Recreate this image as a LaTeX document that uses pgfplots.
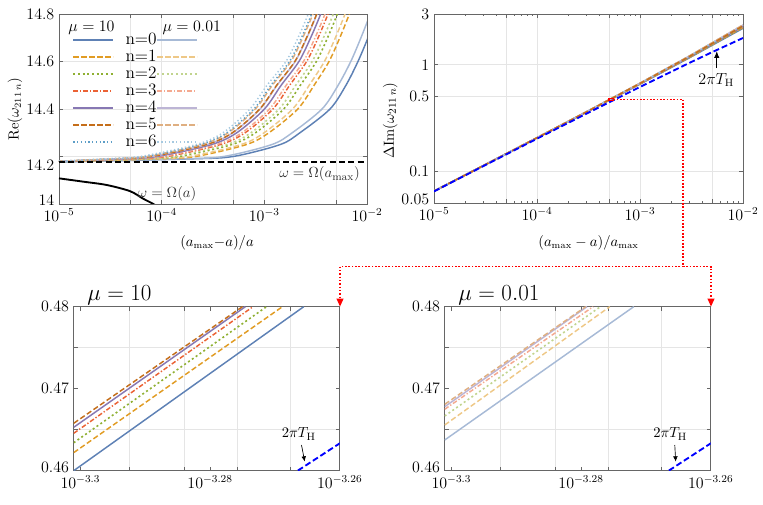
\documentclass[border=0pt]{standalone}
\usepackage{pgfplots}
\pgfplotsset{compat=1.18}
\usetikzlibrary{arrows.meta}

\definecolor{c0}{rgb}{0.368417,0.506779,0.709798}
\definecolor{c1}{rgb}{0.880722,0.611041,0.142051}
\definecolor{c2}{rgb}{0.560181,0.691569,0.194885}
\definecolor{c3}{rgb}{0.922526,0.385626,0.209179}
\definecolor{c4}{rgb}{0.528488,0.470624,0.701351}
\definecolor{c5}{rgb}{0.772079,0.431554,0.102387}
\definecolor{c6}{rgb}{0.363898,0.618501,0.782349}
\colorlet{l0}{c0!55!white}
\colorlet{l1}{c1!55!white}
\colorlet{l2}{c2!55!white}
\colorlet{l3}{c3!55!white}
\colorlet{l4}{c4!55!white}
\colorlet{l5}{c5!55!white}
\colorlet{l6}{c6!55!white}

\tikzset{
  s0/.style={line width=1.1pt},
  s1/.style={line width=1.1pt, dash pattern=on 4pt off 2pt},
  s2/.style={line width=1.2pt, dash pattern=on 1.5pt off 2pt},
  s3/.style={line width=1.1pt, dash pattern=on 3.5pt off 1.5pt on 1pt off 1.5pt},
  s4/.style={line width=1.1pt},
  s5/.style={line width=1.1pt, dash pattern=on 4pt off 2pt},
  s6/.style={line width=1.1pt, dash pattern=on 1pt off 1.8pt},
  th/.style={blue, line width=1.4pt, dash pattern=on 4.5pt off 2.2pt},
  rdot/.style={red, line width=1.2pt, dash pattern=on 1.2pt off 1.3pt},
}
\newcommand\legtxt[1]{\hspace{8.5pt}#1\hspace{9pt}}

\pgfplotsset{
  mma/.style={
    scale only axis,
    clip mode=individual,
    axis line style={black!60, line width=0.7pt},
    tick style={black!60, line width=0.5pt},
    major tick length=3pt,
    minor tick length=1.5pt,
    tick align=inside,
    grid style={gray!20, line width=0.5pt},
    ticklabel style={font=\fontsize{12}{12}\selectfont},
    label style={font=\fontsize{10.5}{11}\selectfont},
  }
}

\begin{document}
\begin{tikzpicture}

%% ---------------- top left ----------------
\begin{axis}[mma, name=tl,
  at={(44.25pt,-10.5pt)}, anchor=north west,
  width=231pt, height=142.5pt,
  xmin=-5, xmax=-2, ymin=14, ymax=14.8,
  xtick={-5,-4,-3,-2},
  xticklabels={$10^{-5}$,$10^{-4}$,$10^{-3}$,$10^{-2}$},
  ytick={14,14.4,14.6,14.8},
  yticklabels={\raisebox{6pt}{14},14.4,14.6,14.8},
  extra y ticks={14.2}, extra y tick labels={14.2},
  extra y tick style={grid=major, yticklabel style={yshift=-6.4pt}},
  extra x ticks={-4.30103,-3.30103,-2.30103}, extra x tick labels={},
  extra x tick style={grid=major},
  xmajorgrids, ymajorgrids,
  xlabel={$(a_{\max}{-}a)/a$},
  xlabel style={at={(axis description cs:0.513,-0.205)}, anchor=center},
  ylabel={$\mathrm{Re}(\omega_{211\,n})$},
  ylabel style={at={(axis description cs:-0.143,0.5)}, anchor=center},
  legend columns=2,
  legend style={draw=none, fill=none, at={(axis description cs:0.0432,0.9)},
    anchor=north west, font=\fontsize{13}{13}\selectfont,
    inner sep=0pt, row sep=2.6pt, column sep=0pt,
    nodes={inner sep=0pt}},
  legend image code/.code={\draw[#1] (0pt,0pt) -- (30pt,0pt);},
]
\addplot[c0, s0, smooth] coordinates {(-5,14.177) (-3.724,14.19) (-3.305,14.20) (-2.847,14.25) (-2.653,14.30) (-2.360,14.40) (-2.205,14.50) (-2.088,14.60) (-1.990,14.70) (-1.902,14.80) (-1.825,14.90)};
\addlegendentry{\legtxt{n=0}}
\addplot[l0, s0, smooth] coordinates {(-5,14.178) (-3.807,14.19) (-3.396,14.20) (-2.929,14.25) (-2.728,14.30) (-2.438,14.40) (-2.281,14.50) (-2.158,14.60) (-2.059,14.70) (-1.969,14.80) (-1.891,14.90)};
\addlegendentry{}
\addplot[c1, s1, smooth] coordinates {(-5,14.178) (-4.058,14.19) (-3.670,14.20) (-3.177,14.25) (-2.955,14.30) (-2.674,14.40) (-2.515,14.50) (-2.370,14.60) (-2.265,14.70) (-2.172,14.80) (-2.092,14.90)};
\addlegendentry{\legtxt{n=1}}
\addplot[l1, s1, smooth] coordinates {(-5,14.178) (-4.110,14.19) (-3.727,14.20) (-3.229,14.25) (-3.002,14.30) (-2.724,14.40) (-2.563,14.50) (-2.415,14.60) (-2.308,14.70) (-2.214,14.80) (-2.133,14.90)};
\addlegendentry{}
\addplot[c2, s2, smooth] coordinates {(-5,14.178) (-4.203,14.19) (-3.829,14.20) (-3.320,14.25) (-3.086,14.30) (-2.811,14.40) (-2.649,14.50) (-2.493,14.60) (-2.384,14.70) (-2.289,14.80) (-2.208,14.90)};
\addlegendentry{\legtxt{n=2}}
\addplot[l2, s2, smooth] coordinates {(-5,14.179) (-4.251,14.19) (-3.881,14.20) (-3.368,14.25) (-3.130,14.30) (-2.856,14.40) (-2.694,14.50) (-2.534,14.60) (-2.424,14.70) (-2.328,14.80) (-2.246,14.90)};
\addlegendentry{}
\addplot[c3, s3, smooth] coordinates {(-5,14.179) (-4.314,14.19) (-3.951,14.20) (-3.431,14.25) (-3.187,14.30) (-2.916,14.40) (-2.753,14.50) (-2.588,14.60) (-2.476,14.70) (-2.380,14.80) (-2.297,14.90)};
\addlegendentry{\legtxt{n=3}}
\addplot[l3, s3, smooth] coordinates {(-5,14.179) (-4.351,14.19) (-3.991,14.20) (-3.467,14.25) (-3.220,14.30) (-2.950,14.40) (-2.787,14.50) (-2.619,14.60) (-2.506,14.70) (-2.409,14.80) (-2.326,14.90)};
\addlegendentry{}
\addplot[c4, s4, smooth] coordinates {(-5,14.179) (-4.403,14.19) (-4.048,14.20) (-3.518,14.25) (-3.268,14.30) (-2.999,14.40) (-2.836,14.50) (-2.663,14.60) (-2.549,14.70) (-2.451,14.80) (-2.368,14.90)};
\addlegendentry{\legtxt{n=4}}
\addplot[l4, s4, smooth] coordinates {(-5,14.179) (-4.447,14.19) (-4.096,14.20) (-3.562,14.25) (-3.307,14.30) (-3.041,14.40) (-2.876,14.50) (-2.700,14.60) (-2.586,14.70) (-2.487,14.80) (-2.403,14.90)};
\addlegendentry{}
\addplot[c5, s5, smooth] coordinates {(-5,14.179) (-4.451,14.19) (-4.101,14.20) (-3.566,14.25) (-3.311,14.30) (-3.045,14.40) (-2.880,14.50) (-2.703,14.60) (-2.589,14.70) (-2.490,14.80) (-2.406,14.90)};
\addlegendentry{\legtxt{n=5}}
\addplot[l5, s5, smooth] coordinates {(-5,14.180) (-4.496,14.19) (-4.149,14.20) (-3.610,14.25) (-3.352,14.30) (-3.087,14.40) (-2.922,14.50) (-2.741,14.60) (-2.626,14.70) (-2.526,14.80) (-2.442,14.90)};
\addlegendentry{}
\addplot[c6, s6, smooth] coordinates {(-5,14.180) (-4.511,14.19) (-4.167,14.20) (-3.626,14.25) (-3.366,14.30) (-3.101,14.40) (-2.936,14.50) (-2.755,14.60) (-2.639,14.70) (-2.539,14.80) (-2.455,14.90)};
\addlegendentry{\legtxt{n=6}}
\addplot[l6, s6, smooth] coordinates {(-5,14.180) (-4.552,14.19) (-4.211,14.20) (-3.666,14.25) (-3.403,14.30) (-3.140,14.40) (-2.974,14.50) (-2.789,14.60) (-2.672,14.70) (-2.572,14.80) (-2.487,14.90)};
\addlegendentry{}
% Omega(a_max) and Omega(a)
\addplot[forget plot, black, line width=1.5pt, dash pattern=on 4.5pt off 2.5pt] coordinates {(-5,14.176) (-2,14.176)};
\addplot[forget plot, black, line width=1.4pt, smooth] coordinates {(-5,14.108) (-4.763,14.094) (-4.535,14.080) (-4.308,14.054) (-4.179,14.022) (-4.081,14.000) (-4.0,13.975)};
\node[anchor=east, font=\fontsize{11}{11}\selectfont, black!80] at (axis cs:-2.025,14.125) {$\omega=\Omega(a_{\max})$};
\node[font=\fontsize{11}{11}\selectfont, black!80] at (axis cs:-3.948,14.043) {$\omega=\Omega(a)$};
\node[font=\fontsize{11.5}{12}\selectfont] at (axis description cs:0.1055,0.926) {$\mu=10$};
\node[font=\fontsize{11.5}{12}\selectfont] at (axis description cs:0.431,0.926) {$\mu=0.01$};
\end{axis}

%% ---------------- top right ----------------
\begin{axis}[mma, name=tr,
  at={(325.5pt,-10.5pt)}, anchor=north west,
  width=231.75pt, height=141.75pt,
  xmode=log, ymode=log,
  xmin=1e-5, xmax=1e-2, ymin=0.05, ymax=3,
  xtick={1e-5,1e-4,1e-3,1e-2},
  xticklabels={$10^{-5}$,$10^{-4}$,$10^{-3}$,$10^{-2}$},
  ytick={0.05,0.1,0.5,1,3},
  yticklabels={\raisebox{6pt}{0.05},0.1,0.5,1,3},
  extra x ticks={5e-5,5e-4,5e-3}, extra x tick labels={},
  extra x tick style={grid=major},
  xmajorgrids, ymajorgrids,
  xlabel={$(a_{\max}-a)/a_{\max}$},
  xlabel style={at={(axis description cs:0.50,-0.212)}, anchor=center},
  ylabel={$\Delta\mathrm{Im}(\omega_{211\,n})$},
  ylabel style={at={(axis description cs:-0.142,0.436)}, anchor=center, font=\fontsize{11}{11}\selectfont},
]
\addplot[c0, s0] coordinates {(1e-5,0.06456) (3e-5,0.11187) (1e-4,0.20456) (3e-4,0.35561) (1e-3,0.65552) (3e-3,1.15718) (1e-2,2.20082)};
\addplot[l0, s0] coordinates {(1e-5,0.06461) (3e-5,0.11202) (1e-4,0.20514) (3e-4,0.35749) (1e-3,0.66234) (3e-3,1.17893) (1e-2,2.27628)};
\addplot[c1, s1] coordinates {(1e-5,0.06459) (3e-5,0.11195) (1e-4,0.20486) (3e-4,0.35659) (1e-3,0.65906) (3e-3,1.16848) (1e-2,2.24002)};
\addplot[l1, s1] coordinates {(1e-5,0.06464) (3e-5,0.11211) (1e-4,0.20544) (3e-4,0.35847) (1e-3,0.66588) (3e-3,1.19022) (1e-2,2.31548)};
\addplot[c2, s2] coordinates {(1e-5,0.06461) (3e-5,0.11201) (1e-4,0.20508) (3e-4,0.35732) (1e-3,0.66172) (3e-3,1.17695) (1e-2,2.26942)};
\addplot[l2, s2] coordinates {(1e-5,0.06465) (3e-5,0.11215) (1e-4,0.20562) (3e-4,0.35906) (1e-3,0.66800) (3e-3,1.19700) (1e-2,2.33900)};
\addplot[c3, s3] coordinates {(1e-5,0.06462) (3e-5,0.11206) (1e-4,0.20527) (3e-4,0.35793) (1e-3,0.66393) (3e-3,1.18401) (1e-2,2.29392)};
\addplot[l3, s3] coordinates {(1e-5,0.06466) (3e-5,0.11219) (1e-4,0.20575) (3e-4,0.35950) (1e-3,0.66959) (3e-3,1.20209) (1e-2,2.35664)};
\addplot[c4, s4] coordinates {(1e-5,0.06463) (3e-5,0.11210) (1e-4,0.20541) (3e-4,0.35837) (1e-3,0.66552) (3e-3,1.18909) (1e-2,2.31156)};
\addplot[l4, s4] coordinates {(1e-5,0.06467) (3e-5,0.11221) (1e-4,0.20580) (3e-4,0.35967) (1e-3,0.67021) (3e-3,1.20406) (1e-2,2.36350)};
\addplot[c6, s6] coordinates {(1e-5,0.06464) (3e-5,0.11213) (1e-4,0.20552) (3e-4,0.35874) (1e-3,0.66685) (3e-3,1.19333) (1e-2,2.32626)};
\addplot[l6, s6] coordinates {(1e-5,0.06467) (3e-5,0.11223) (1e-4,0.20588) (3e-4,0.35991) (1e-3,0.67110) (3e-3,1.20689) (1e-2,2.37330)};
\addplot[l5, s5] coordinates {(1e-5,0.06467) (3e-5,0.11222) (1e-4,0.20585) (3e-4,0.35982) (1e-3,0.67075) (3e-3,1.20576) (1e-2,2.36938)};
\addplot[c5, s5] coordinates {(1e-5,0.06464) (3e-5,0.11212) (1e-4,0.20548) (3e-4,0.35862) (1e-3,0.66641) (3e-3,1.19192) (1e-2,2.32136)};
\addplot[th] coordinates {(1e-5,0.06430) (3e-5,0.11100) (1e-4,0.20138) (3e-4,0.34525) (1e-3,0.61800) (3e-3,1.03744) (5e-3,1.31130) (1e-2,1.78530)};
\draw[red, line width=0.8pt] (axis cs:5e-4,0.46) rectangle (axis cs:5.5e-4,0.48);
\draw[rdot] (axis cs:5.5e-4,0.47) -- (axis cs:2.616e-3,0.47);
\coordinate (rc) at (axis cs:2.616e-3,0.47);
\draw[black, line width=0.6pt, -{Latex[length=5pt,width=4pt]}] (axis cs:5.56e-3,0.931) -- (axis cs:5.56e-3,1.34);
\node[font=\fontsize{11.5}{12}\selectfont] at (axis cs:5.5e-3,0.718) {$2\pi T_{\mathrm{H}}$};
\end{axis}

%% ---------------- bottom left ----------------
\begin{axis}[mma, name=bl,
  at={(55.5pt,-230pt)}, anchor=north west,
  width=199.5pt, height=123pt,
  xmode=log, xmin=5e-4, xmax=5.49541e-4, ymin=0.46, ymax=0.48,
  xtick={5.01187e-4,5.24807e-4,5.49541e-4},
  xticklabels={$10^{-3.3}$,$10^{-3.28}$,$10^{-3.26}$},
  minor xtick={}, 
  ytick={0.46,0.47,0.48}, yticklabels={\raisebox{6pt}{0.46},0.47,0.48},
  extra x ticks={5.1e-4,5.2e-4,5.3e-4,5.4e-4}, extra x tick labels={},
  extra x tick style={grid=major},
  extra y ticks={0.465,0.475}, extra y tick labels={},
  extra y tick style={grid=major},
]
\addplot[c0, s0] coordinates {(5e-4,0.46000) (5.4256e-4,0.48)};
\addplot[c1, s1] coordinates {(5e-4,0.46220) (5.3847e-4,0.48)};
\addplot[c2, s2] coordinates {(5e-4,0.46341) (5.3542e-4,0.48)};
\addplot[c3, s3] coordinates {(5e-4,0.46456) (5.3288e-4,0.48)};
\addplot[c4, s4] coordinates {(5e-4,0.46529) (5.3144e-4,0.48)};
\addplot[c5, s5] coordinates {(5e-4,0.46578) (5.3088e-4,0.48)};
\addplot[th] coordinates {(5.4e-4,0.45942) (5.5e-4,0.46352)};
\draw[black, line width=0.5pt, -{Latex[length=4pt,width=3.5pt]}] (axis cs:5.4211e-4,0.46313) -- (axis cs:5.4275e-4,0.46110);
\node[font=\fontsize{11}{11}\selectfont] at (axis cs:5.4160e-4,0.46448) {$2\pi T_{\mathrm{H}}$};
\node[anchor=base west, font=\fontsize{16}{16}\selectfont] at (axis description cs:0.034,1.04) {$\mu=10$};
\end{axis}

%% ---------------- bottom right ----------------
\begin{axis}[mma, name=br,
  at={(333.75pt,-230pt)}, anchor=north west,
  width=199.5pt, height=123pt,
  xmode=log, xmin=5e-4, xmax=5.49541e-4, ymin=0.46, ymax=0.48,
  xtick={5.01187e-4,5.24807e-4,5.49541e-4},
  xticklabels={$10^{-3.3}$,$10^{-3.28}$,$10^{-3.26}$},
  minor xtick={},
  ytick={0.46,0.47,0.48}, yticklabels={\raisebox{6pt}{0.46},0.47,0.48},
  extra x ticks={5.1e-4,5.2e-4,5.3e-4,5.4e-4}, extra x tick labels={},
  extra x tick style={grid=major},
  extra y ticks={0.465,0.475}, extra y tick labels={},
  extra y tick style={grid=major},
]
\addplot[l0, s0] coordinates {(5e-4,0.46374) (5.3472e-4,0.48)};
\addplot[l1, s1] coordinates {(5e-4,0.46557) (5.3017e-4,0.48)};
\addplot[l2, s2] coordinates {(5e-4,0.46667) (5.2843e-4,0.48)};
\addplot[l3, s3] coordinates {(5e-4,0.46749) (5.2705e-4,0.48)};
\addplot[l4, s4] coordinates {(5e-4,0.46780) (5.2592e-4,0.48)};
\addplot[l5, s5] coordinates {(5e-4,0.46809) (5.2568e-4,0.48)};
\addplot[th] coordinates {(5.4e-4,0.45942) (5.5e-4,0.46352)};
\draw[black, line width=0.5pt, -{Latex[length=4pt,width=3.5pt]}] (axis cs:5.4256e-4,0.46313) -- (axis cs:5.4275e-4,0.46110);
\node[font=\fontsize{11}{11}\selectfont] at (axis cs:5.4168e-4,0.46448) {$2\pi T_{\mathrm{H}}$};
\node[anchor=base west, font=\fontsize{16}{16}\selectfont] at (axis description cs:0.034,1.04) {$\mu=0.01$};
\end{axis}

%% red connector
\draw[rdot] (rc) -- (rc |- 0,-199.9pt) -- (bl.north east |- 0,-199.9pt);
\draw[rdot, -{Triangle[width=5pt,length=6pt]}] (bl.north east |- 0,-199.9pt) -- (bl.north east);
\draw[rdot, -{Triangle[width=5pt,length=6pt]}] (rc |- 0,-199.9pt) -| (br.north east);

\pgfresetboundingbox
\useasboundingbox (0,0) rectangle (572.25pt,-378pt);
\end{tikzpicture}
\end{document}
